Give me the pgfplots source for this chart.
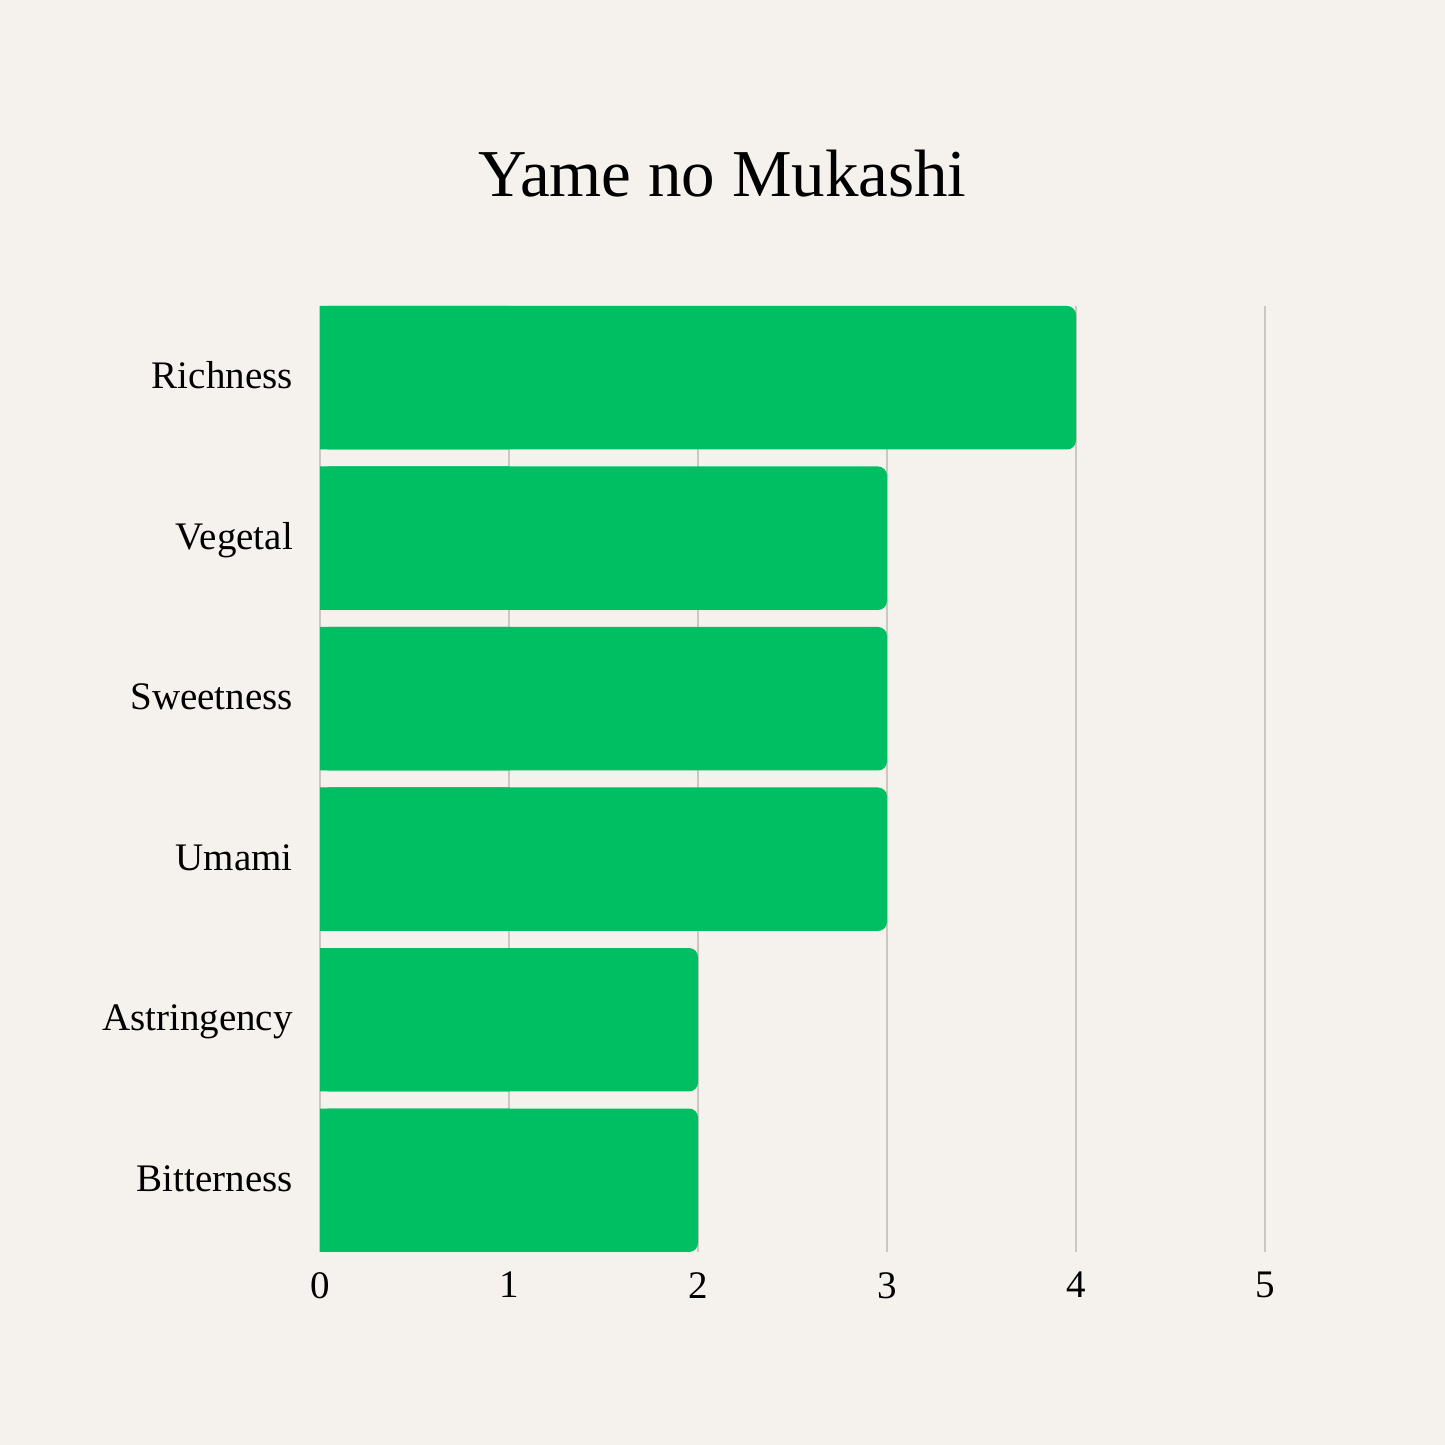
\documentclass[border=0pt]{standalone}
\usepackage{fontspec}
\setmainfont{Liberation Serif}
\usepackage{pgfplots}
\pgfplotsset{compat=1.18}

\definecolor{bgbeige}{HTML}{F5F1EC}
\definecolor{teagreen}{HTML}{00BF63}
\definecolor{gridgray}{HTML}{CCC7C2}

\begin{document}
\begin{tikzpicture}
  \useasboundingbox (0,0) rectangle (1445bp,1445bp);
  \fill[bgbeige] (0,0) rectangle (1445bp,1445bp);

  \node[anchor=base, inner sep=0pt, font=\fontsize{67bp}{70bp}\selectfont]
    at (722.5bp,1248bp) {Yame no Mukashi};

  \begin{axis}[
    at={(320bp,193bp)}, anchor=south west,
    scale only axis,
    width=945bp, height=946bp,
    xbar, bar width=0.894, bar shift=0pt,
    xmin=0, xmax=5,
    ymin=-0.447, ymax=5.447,
    xtick={0,1,2,3,4,5},
    ytick={0,1,2,3,4,5},
    yticklabels={Bitterness,Astringency,Umami,Sweetness,Vegetal,Richness},
    axis line style={draw=none},
    major tick length=0pt,
    xmajorgrids=true,
    grid style={line width=1.2bp, draw=gridgray},
    /pgf/number format/assume math mode=true,
    ticklabel style={font=\fontsize{39bp}{42bp}\selectfont, inner sep=0pt},
    yticklabel style={anchor=base east, xshift=-27bp, yshift=-11bp},
    xticklabel style={anchor=north, yshift=-20bp},
    clip=false,
  ]
    % scores
    \addplot[draw=none, fill=teagreen, rounded corners=9bp] coordinates {
      (2,0) (2,1) (3,2) (3,3) (3,4) (4,5)
    };
    % square strip so the left ends stay square
    \addplot[draw=none, fill=teagreen, forget plot] coordinates {
      (1,0) (1,1) (1,2) (1,3) (1,4) (1,5)
    };
  \end{axis}
\end{tikzpicture}
\end{document}
